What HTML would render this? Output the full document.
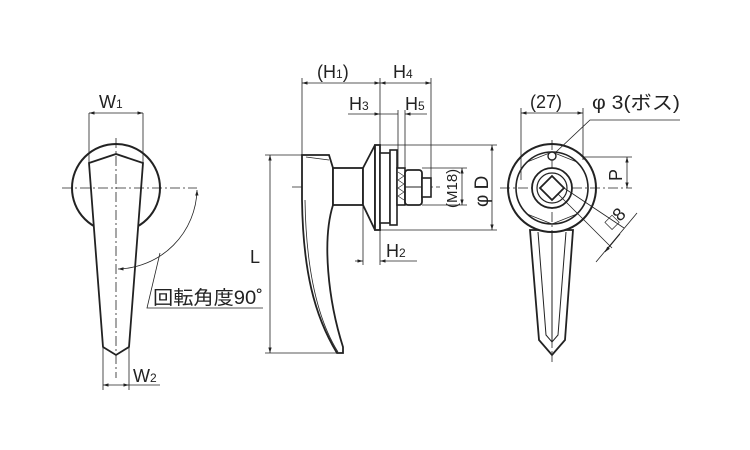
<!DOCTYPE html>
<html><head><meta charset="utf-8"><style>
html,body{margin:0;padding:0;background:#fff;width:750px;height:450px;overflow:hidden}
svg{display:block}
text{font-family:"Liberation Sans","Noto Sans CJK JP",sans-serif;fill:#222}
</style></head><body>
<svg width="750" height="450" viewBox="0 0 750 450" xmlns="http://www.w3.org/2000/svg">
<defs>
<marker id="a" viewBox="0 0 10 10" refX="10" refY="5" markerWidth="7" markerHeight="7" orient="auto-start-reverse"><path d="M0,2 L10,5 L0,8 z" fill="#222"/></marker>
</defs>
<g stroke="#222" fill="none" stroke-width="0.8">
<!-- LEFT VIEW -->
<circle cx="116" cy="188" r="44" stroke-width="2" fill="#fff"/>
<path d="M89,163 L116,154 L143,163 L129,347 L116,355 L103,347 Z" stroke-width="1.8" fill="#fff"/>
<line x1="62" y1="188" x2="197" y2="188" stroke-dasharray="10,3,2,3"/>
<line x1="116" y1="138" x2="116" y2="378" stroke-dasharray="10,3,2,3"/>
<line x1="89" y1="113" x2="89" y2="163"/><line x1="143" y1="113" x2="143" y2="163"/>
<line x1="89" y1="113" x2="143" y2="113" marker-start="url(#a)" marker-end="url(#a)"/>
<line x1="103" y1="348" x2="103" y2="390"/><line x1="129" y1="348" x2="129" y2="390"/>
<line x1="103" y1="385" x2="129" y2="385" marker-start="url(#a)" marker-end="url(#a)"/>
<line x1="129" y1="385" x2="160" y2="385"/>
<path d="M197,190 A81,81 0 0 1 118,269" marker-start="url(#a)" marker-end="url(#a)"/>
<polyline points="160,253 147,308 263,308"/>
<!-- MIDDLE VIEW -->
<line x1="292" y1="187" x2="440" y2="187" stroke-dasharray="10,3,2,3"/>
<path d="M302,155 L329,155 L333,168 L333,205 C322,240 328,300 343,347 L343,353 L337,353 C314,315 303,270 302,200 Z" stroke-width="1.8" fill="#fff"/>
<path d="M306,157 L329,160 M305,200 C306,270 318,320 338,352" stroke-width="0.8"/>
<rect x="333" y="168" width="30" height="37" stroke-width="1.8" fill="#fff"/>
<path d="M363,168 L375,145 L375,230 L363,205 Z" stroke-width="1.8" fill="#fff"/>
<rect x="375" y="145" width="5" height="85" stroke-width="1.8" fill="#fff"/>
<rect x="380" y="153" width="10" height="70" stroke-width="1.6" fill="#fff"/>
<rect x="390" y="150" width="7" height="75" stroke-width="1.6" fill="#fff"/>
<rect x="397" y="168" width="8" height="37" stroke-width="1.6" fill="#fff"/>
<path d="M398,172 l6,4 l-6,4 l6,4 l-6,4 l6,4 l-6,4 l6,4" stroke-width="0.6"/>
<rect x="405" y="170" width="17" height="35" rx="3" stroke-width="1.8" fill="#fff"/>
<line x1="405" y1="187" x2="422" y2="187" stroke-width="1"/>
<rect x="422" y="178" width="9" height="19" stroke-width="1.6" fill="#fff"/>
<line x1="302" y1="78" x2="302" y2="155"/><line x1="380" y1="78" x2="380" y2="265"/>
<line x1="431" y1="78" x2="431" y2="178"/>
<line x1="398" y1="110" x2="398" y2="168"/><line x1="405" y1="110" x2="405" y2="168"/>
<line x1="363" y1="205" x2="363" y2="265"/>
<line x1="302" y1="83" x2="380" y2="83" marker-start="url(#a)" marker-end="url(#a)"/>
<line x1="380" y1="83" x2="431" y2="83" marker-start="url(#a)" marker-end="url(#a)"/>
<line x1="348" y1="114" x2="380" y2="114" marker-end="url(#a)"/>
<line x1="380" y1="114" x2="398" y2="114"/>
<line x1="427" y1="114" x2="405" y2="114" marker-end="url(#a)"/>
<line x1="355" y1="261" x2="363" y2="261" marker-end="url(#a)"/>
<line x1="417" y1="261" x2="380" y2="261" marker-end="url(#a)"/>
<line x1="265" y1="155" x2="302" y2="155"/><line x1="265" y1="353" x2="343" y2="353"/>
<line x1="270" y1="155" x2="270" y2="353" marker-start="url(#a)" marker-end="url(#a)"/>
<line x1="380" y1="145" x2="497" y2="145"/><line x1="380" y1="230" x2="497" y2="230"/>
<line x1="492" y1="145" x2="492" y2="230" marker-start="url(#a)" marker-end="url(#a)"/>
<line x1="422" y1="168" x2="467" y2="168"/><line x1="422" y1="205" x2="467" y2="205"/>
<line x1="462" y1="168" x2="462" y2="205" marker-start="url(#a)" marker-end="url(#a)"/>
<!-- RIGHT VIEW -->
<path d="M530,230 L573,230 L565,340 L552,355 L539,340 Z" stroke-width="1.8" fill="#fff"/>
<path d="M538,232 L546,335 L552,342 L558,335 L566,232 M552,232 L552,342" stroke-width="1"/>
<circle cx="552" cy="188" r="44" stroke-width="2" fill="#fff"/>
<circle cx="552" cy="188" r="36" stroke-width="1.6"/>
<line x1="500" y1="188" x2="632" y2="188" stroke-dasharray="10,3,2,3"/>
<line x1="552" y1="140" x2="552" y2="362" stroke-dasharray="10,3,2,3"/>
<path d="M527,162 L552,152 L577,162 M527,214 L552,224 L577,214" stroke-width="0.7"/>
<circle cx="552" cy="188" r="20" stroke-width="1.8" fill="#fff"/>
<circle cx="552" cy="188" r="15" stroke-width="1.2"/>
<path d="M552,176 L564,188 L552,200 L540,188 Z" stroke-width="1.8"/>
<circle cx="552" cy="156" r="4" stroke-width="1.4" fill="#fff"/>
<line x1="521" y1="108" x2="521" y2="180"/><line x1="583" y1="108" x2="583" y2="160"/>
<line x1="521" y1="113" x2="583" y2="113" marker-start="url(#a)" marker-end="url(#a)"/>
<polyline points="556,152 590,120 680,120"/>
<line x1="583" y1="157" x2="632" y2="157"/>
<line x1="627" y1="157" x2="627" y2="188" marker-start="url(#a)" marker-end="url(#a)"/>
<line x1="558" y1="194" x2="612" y2="248"/><line x1="564" y1="188" x2="624" y2="228"/>
<line x1="596" y1="262" x2="637" y2="213"/>
<line x1="620" y1="234" x2="605" y2="252" marker-end="url(#a)"/>
</g>
<g font-size="18">
<text x="99" y="108">W<tspan font-size="12">1</tspan></text>
<text x="133" y="382">W<tspan font-size="12">2</tspan></text>
<text x="153" y="304" font-size="19" textLength="110" lengthAdjust="spacingAndGlyphs">回転角度90˚</text>
<text x="317" y="78">(H<tspan font-size="12">1</tspan>)</text>
<text x="393" y="78">H<tspan font-size="12">4</tspan></text>
<text x="349" y="110">H<tspan font-size="12">3</tspan></text>
<text x="405" y="110">H<tspan font-size="12">5</tspan></text>
<text x="386" y="257">H<tspan font-size="12">2</tspan></text>
<text x="250" y="263">L</text>
<text transform="translate(457,208) rotate(-90)" font-size="15">(M18)</text>
<text transform="translate(488,207) rotate(-90)" font-size="19">φ D</text>
<text x="530" y="108">(27)</text>
<text x="592" y="109" font-size="19" textLength="88" lengthAdjust="spacingAndGlyphs">φ 3(ボス)</text>
<text transform="translate(622,181) rotate(-90)">P</text>
<text transform="translate(612,230) rotate(-45)">□8</text>
</g>
</svg>
</body></html>
